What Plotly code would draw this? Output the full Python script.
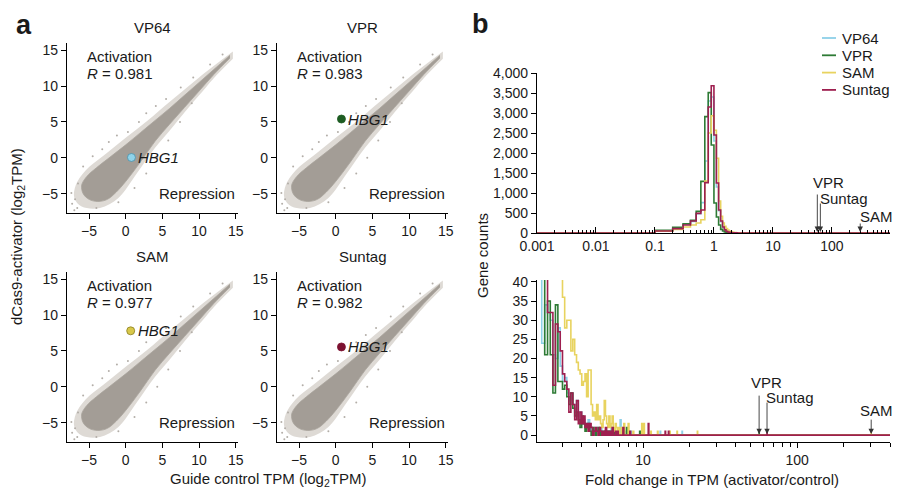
import math
import plotly.graph_objects as go

W, H = 901, 489
FONT = "Liberation Sans, Arial, sans-serif"

# ---------------- data: panel a (scatter) ----------------
panels = ["VP64", "VPR", "SAM", "Suntag"]
r_values = ["0.981", "0.983", "0.977", "0.982"]
hbg1_x = [0.78, 0.78, 0.68, 0.78]
hbg1_y = [0.04, 5.4, 7.8, 5.55]

# outline of the dense gene cloud (log2 TPM control vs activator)
cloud_core_x = [14.2, 12.0, 10.0, 8.0, 6.0, 4.0, 2.0, 0.0, -2.0, -4.0, -5.3,
                -6.0, -5.8, -5.0, -3.8, -2.5, -1.3,
                0.0, 2.0, 4.0, 6.0, 8.0, 10.0, 12.0, 14.2]
cloud_core_y = [14.3, 12.3, 10.5, 8.7, 6.9, 5.2, 3.5, 1.8, 0.2, -1.4, -2.6,
                -3.8, -5.0, -5.8, -6.1, -5.8, -4.8,
                -3.3, -0.6, 2.3, 4.7, 7.0, 9.3, 11.6, 13.9]
# outline of the sparse halo around the cloud
cloud_halo_x = [14.6, 10.0, 6.0, 3.0, 0.0, -3.0, -5.5, -6.8, -7.0, -6.0, -3.5, -1.0,
                1.5, 4.0, 6.0, 8.0, 10.0, 12.0, 14.6]
cloud_halo_y = [14.8, 11.2, 7.8, 5.2, 2.8, 0.3, -1.8, -3.8, -5.6, -6.8, -7.0, -5.6,
                -2.2, 1.4, 3.8, 6.3, 8.7, 11.1, 13.8]
# scattered outlier genes
outlier_x = [-7.0, -6.6, -7.3, -6.9, -7.4, -6.5, -5.8, -4.5, -3.2, -2.3, -1.2, 0.3, 1.8,
             2.8, 4.1, 5.5, 7.5, 9.2, 11.5, 13.2, -4.0, -1.0, 1.2, 2.8, 4.3, 5.8,
             7.4, 9.0]
outlier_y = [-7.3, -7.0, -6.4, -5.8, -4.9, -3.6, -1.2, 0.2, 1.2, 2.2, 3.1, 3.6, 5.0,
             6.2, 7.2, 8.2, 9.8, 11.2, 13.0, 14.4, -7.0, -6.2, -4.2, -2.2, 0.0, 2.4,
             5.0, 7.6]

# ---------------- data: panel b (histograms of fold change) ----------------
series = ["VP64", "VPR", "SAM", "Suntag"]
series_colors = ["#8dd0e8", "#2e7b35", "#e8d35f", "#9e1f4f"]
hbg1_fill = ["#8fd3ea", "#1d5c22", "#d8c84a", "#7c1131"]
hbg1_line = ["#4a8fa8", "#1d5c22", "#8a7d20", "#7c1131"]

# top histogram: bins of width 0.1, left edges 0.1 ... 2.9
top_bin_left = [0.1, 0.2, 0.3, 0.4, 0.5, 0.6, 0.7, 0.8, 0.9, 1.0, 1.1, 1.2, 1.3, 1.4, 1.5,
                1.6, 1.7, 1.8, 1.9, 2.0, 2.1, 2.2, 2.3, 2.4, 2.5, 2.6, 2.7, 2.8, 2.9]
top_counts = {
    "VP64":   [55, 120, 220, 290, 480, 760, 1800, 3300, 3400, 2300, 1150, 560, 280, 140, 75,
               45, 30, 20, 12, 8, 6, 4, 3, 2, 2, 1, 1, 1, 0],
    "VPR":    [65, 140, 230, 315, 540, 1290, 2910, 3510, 2200, 750, 400, 200, 90, 50, 28,
               16, 10, 6, 4, 3, 2, 2, 1, 1, 1, 1, 0, 0, 0],
    "SAM":    [45, 90, 150, 200, 250, 330, 1300, 2500, 2930, 2570, 1870, 800, 420, 250, 170,
               110, 75, 50, 35, 25, 18, 14, 10, 8, 6, 5, 4, 3, 2],
    "Suntag": [50, 110, 200, 300, 490, 575, 1260, 3150, 3680, 2450, 1250, 575, 300, 150, 80,
               45, 25, 15, 10, 6, 4, 3, 2, 2, 1, 1, 1, 0, 0],
}

# bottom histogram (zoomed): bins of width 0.1, left edges 2.0 ... 6.9
bottom_bin_left = [2.0, 2.1, 2.2, 2.3, 2.4, 2.5, 2.6, 2.7, 2.8, 2.9,
                   3.0, 3.1, 3.2, 3.3, 3.4, 3.5, 3.6, 3.7, 3.8, 3.9,
                   4.0, 4.1, 4.2, 4.3, 4.4, 4.5, 4.6, 4.7, 4.8, 4.9,
                   5.0, 5.1, 5.2, 5.3, 5.4, 5.5, 5.6, 5.7, 5.8, 5.9,
                   6.0, 6.1, 6.2, 6.3, 6.4, 6.5, 6.6, 6.7, 6.8, 6.9]
bottom_counts = {
    "VP64":   [55, 48, 24, 34, 32, 30, 21, 20, 28, 18,
               14, 15, 11, 9, 11, 8, 6, 9, 4, 6,
               3, 4, 2, 3, 4, 1, 2, 1, 0, 2,
               1, 1, 0, 2, 1, 0, 1, 0, 1, 0,
               1, 0, 2, 0, 1, 0, 0, 1, 0, 0],
    "VPR":    [60, 50, 45, 21, 35, 21, 11, 34, 14, 14,
               12, 13, 10, 8, 11, 7, 5, 6, 4, 2,
               5, 3, 1, 2, 3, 1, 0, 2, 1, 0,
               1, 2, 0, 1, 0, 0, 1, 0, 1, 0,
               1, 0, 0, 1, 0, 1, 0, 0, 0, 0],
    "SAM":    [95, 85, 78, 70, 64, 58, 52, 48, 45, 42,
               36, 28, 30, 30, 22, 25, 21, 19, 17, 16,
               13, 14, 16, 10, 17, 17, 8, 5, 6, 4,
               8, 4, 5, 3, 2, 4, 9, 5, 3, 2,
               5, 2, 3, 5, 2, 1, 3, 2, 1, 2],
    "Suntag": [65, 55, 50, 44, 32, 32, 13, 29, 27, 22,
               16, 14, 12, 6, 11, 8, 4, 9, 3, 6,
               3, 5, 2, 3, 1, 3, 2, 0, 1, 2,
               1, 0, 2, 1, 0, 1, 0, 2, 0, 1,
               0, 1, 0, 2, 0, 0, 1, 0, 1, 0],
}
# sparse tail bins beyond 7 (left edge, count); includes the HBG1 gene
tail_left = {
    "VP64":   [7.1, 7.6, 8.3, 12.9, 17.9],
    "VPR":    [7.3, 7.8, 9.5, 56.6],
    "SAM":    [7.2, 7.5, 8.0, 8.6, 9.8, 10.1, 11.2, 12.4, 14.9, 16.6, 22.5, 302.0],
    "Suntag": [7.4, 8.2, 10.8, 13.9, 14.6, 63.7],
}
tail_count = {
    "VP64":   [4, 1, 1, 1, 1],
    "VPR":    [1, 2, 1, 1],
    "SAM":    [2, 3, 3, 1, 3, 3, 1, 1, 1, 1, 1, 1],
    "Suntag": [2, 1, 3, 1, 1, 1],
}
hbg1_fold = {"VPR": 56.6, "Suntag": 63.7, "SAM": 302.0}

top_ticks = [0.001, 0.01, 0.1, 1, 10, 100]
top_ticktext = ["0.001", "0.01", "0.1", "1", "10", "100"]
bottom_ticks = [10, 100]


# ---------------- helpers ----------------
def px_x(p):
    return p / W


def px_y(p):
    return 1 - p / H


fig = go.Figure()

# scatter panel positions in pixels (left, right, top, bottom)
scatter_boxes = [(67, 238, 43, 213), (277, 448, 43, 213),
                 (67, 238, 272, 442), (277, 448, 272, 442)]

axis_common = dict(showline=True, linecolor="black", linewidth=1.3, ticks="outside",
                   ticklen=5, tickwidth=1.3, tickcolor="black", showgrid=False,
                   zeroline=False, tickfont=dict(family=FONT, size=14, color="#1a1a1a"))

annotations = []
shapes = []

for i, name in enumerate(panels):
    k = i + 1
    xa = "x" if k == 1 else f"x{k}"
    ya = "y" if k == 1 else f"y{k}"
    fig.add_trace(go.Scatter(x=cloud_halo_x, y=cloud_halo_y, fill="toself", mode="lines",
                             line=dict(width=0, color="#dcd8d3", shape="spline"),
                             fillcolor="#dedad5",
                             xaxis=xa, yaxis=ya, showlegend=False, hoverinfo="skip"))
    fig.add_trace(go.Scatter(x=cloud_core_x, y=cloud_core_y, fill="toself", mode="lines",
                             line=dict(width=0.8, color="#aaa49d", shape="spline"),
                             fillcolor="#a39d96",
                             xaxis=xa, yaxis=ya, showlegend=False, hoverinfo="skip"))
    fig.add_trace(go.Scatter(x=outlier_x, y=outlier_y, mode="markers",
                             marker=dict(size=2, color="#b3aea8"),
                             xaxis=xa, yaxis=ya, showlegend=False, hoverinfo="skip"))
    fig.add_trace(go.Scatter(x=[hbg1_x[i]], y=[hbg1_y[i]], mode="markers",
                             marker=dict(size=8, color=hbg1_fill[i],
                                         line=dict(width=0.8, color=hbg1_line[i])),
                             xaxis=xa, yaxis=ya, showlegend=False, hoverinfo="skip"))
    l, r, t, b = scatter_boxes[i]
    fig.update_layout(**{
        ("xaxis" if k == 1 else f"xaxis{k}"): dict(
            domain=[px_x(l), px_x(r)], range=[-8.0, 15.3], anchor=ya,
            tickvals=[-5, 0, 5, 10, 15], **axis_common),
        ("yaxis" if k == 1 else f"yaxis{k}"): dict(
            domain=[px_y(b), px_y(t)], range=[-7.7, 16.0], anchor=xa,
            tickvals=[-5, 0, 5, 10, 15], **axis_common),
    })
    annotations.append(dict(x=(l + r) / 2 / W, y=px_y(t - 16), xref="paper", yref="paper",
                            text=name, showarrow=False, font=dict(family=FONT, size=15),
                            xanchor="center", yanchor="middle"))
    annotations.append(dict(x=-5.6, y=14.1, xref=xa, yref=ya, text="Activation",
                            showarrow=False, xanchor="left", yanchor="middle",
                            font=dict(family=FONT, size=15)))
    annotations.append(dict(x=-5.6, y=11.8, xref=xa, yref=ya,
                            text=f"<i>R</i> = {r_values[i]}", showarrow=False,
                            xanchor="left", yanchor="middle", font=dict(family=FONT, size=15)))
    annotations.append(dict(x=15.1, y=-5.0, xref=xa, yref=ya, text="Repression",
                            showarrow=False, xanchor="right", yanchor="middle",
                            font=dict(family=FONT, size=15)))
    annotations.append(dict(x=hbg1_x[i], y=hbg1_y[i], xref=xa, yref=ya, text="<i>HBG1</i>",
                            showarrow=False, xanchor="left", yanchor="middle", xshift=5,
                            font=dict(family=FONT, size=15)))

# ---------------- histograms ----------------
for j, s in enumerate(series):
    xs = [0.001] + top_bin_left + [3.0, 1000]
    ys = [0] + top_counts[s] + [0, 0]
    fig.add_trace(go.Scatter(x=xs, y=ys, mode="lines",
                             line=dict(color=series_colors[j], width=1.6, shape="hv"),
                             name=s, xaxis="x5", yaxis="y5", showlegend=False, hoverinfo="skip"))
    xb = list(bottom_bin_left) + [7.0]
    yb = list(bottom_counts[s]) + [0]
    for tl, tc in zip(tail_left[s], tail_count[s]):
        xb += [tl, tl + 0.1]
        yb += [tc, 0]
    xb.append(1000)
    yb.append(0)
    fig.add_trace(go.Scatter(x=xb, y=yb, mode="lines",
                             line=dict(color=series_colors[j], width=1.6, shape="hv"),
                             name=s, xaxis="x6", yaxis="y6", showlegend=False, hoverinfo="skip"))
    # legend entry (drawn by hand for exact spacing)
    row_y = 38 + j * 17.3
    shapes.append(dict(type="line", xref="paper", yref="paper",
                       x0=px_x(822), x1=px_x(836), y0=px_y(row_y), y1=px_y(row_y),
                       line=dict(color=series_colors[j], width=1.8)))
    annotations.append(dict(x=px_x(840), y=px_y(row_y), xref="paper", yref="paper", text=s,
                            showarrow=False, xanchor="left", yanchor="middle",
                            font=dict(family=FONT, size=15)))

hx = [px_x(537), px_x(890)]
minor_top = [m * 10 ** e for e in range(-3, 3) for m in range(2, 10)]
minor_bottom = [m * 10 ** e for e in range(0, 3) for m in range(2, 10)]

fig.update_layout(
    xaxis5=dict(domain=hx, type="log", range=[-3.0, 2.985], anchor="y5",
                tickvals=top_ticks, ticktext=top_ticktext,
                **{**axis_common, "ticks": "inside", "ticklen": 6},
                minor=dict(tickmode="array", tickvals=minor_top, ticks="inside", ticklen=3,
                           tickwidth=1.2, tickcolor="black")),
    yaxis5=dict(domain=[px_y(233), px_y(73)], range=[0, 4000], anchor="x5",
                tickvals=list(range(0, 4001, 500)), tickformat=",", **axis_common),
    xaxis6=dict(domain=hx, type="log", range=[math.log10(2.05), math.log10(400)], anchor="y6",
                tickvals=bottom_ticks, ticktext=["10", "100"], **axis_common,
                minor=dict(tickmode="array", tickvals=minor_bottom, ticks="outside", ticklen=4,
                           tickwidth=1.2, tickcolor="black")),
    yaxis6=dict(domain=[px_y(442), px_y(280)], range=[-1.8, 40.5], anchor="x6",
                tickvals=list(range(0, 41, 5)), **axis_common),
)

# arrow annotations for HBG1 fold changes
arrow_specs = [("x5", "y5", hbg1_fold["VPR"], -40), ("x5", "y5", hbg1_fold["Suntag"], -31),
               ("x5", "y5", hbg1_fold["SAM"], -11),
               ("x6", "y6", hbg1_fold["VPR"], -41), ("x6", "y6", hbg1_fold["Suntag"], -34),
               ("x6", "y6", hbg1_fold["SAM"], -17)]
for xa, ya, fx, ay in arrow_specs:
    annotations.append(dict(x=math.log10(fx), y=0, xref=xa, yref=ya, text="", showarrow=True,
                            ax=0, ay=ay, arrowhead=2, arrowsize=1.2, arrowwidth=0.9,
                            arrowcolor="#333333", standoff=1))
label_specs = [("VPR", 828, 182.5), ("Suntag", 843.5, 199), ("SAM", 876, 216),
               ("VPR", 766.7, 382.7), ("Suntag", 790, 397), ("SAM", 876, 410)]
for txt, x, y in label_specs:
    annotations.append(dict(x=px_x(x), y=px_y(y), xref="paper", yref="paper", text=txt,
                            showarrow=False, xanchor="center", yanchor="middle",
                            font=dict(family=FONT, size=15)))

annotations += [
    dict(x=px_x(17), y=px_y(237), xref="paper", yref="paper",
         text="dCas9-activator (log<sub>2</sub>TPM)", textangle=-90, showarrow=False,
         font=dict(family=FONT, size=15), xanchor="center", yanchor="middle"),
    dict(x=px_x(268), y=px_y(479), xref="paper", yref="paper",
         text="Guide control TPM (log<sub>2</sub>TPM)", showarrow=False,
         font=dict(family=FONT, size=15), xanchor="center", yanchor="middle"),
    dict(x=px_x(482), y=px_y(255), xref="paper", yref="paper", text="Gene counts",
         textangle=-90, showarrow=False, font=dict(family=FONT, size=15),
         xanchor="center", yanchor="middle"),
    dict(x=px_x(712), y=px_y(479), xref="paper", yref="paper",
         text="Fold change in TPM (activator/control)", showarrow=False,
         font=dict(family=FONT, size=15), xanchor="center", yanchor="middle"),
    dict(x=px_x(24), y=px_y(25), xref="paper", yref="paper", text="<b>a</b>",
         showarrow=False, font=dict(family=FONT, size=27), xanchor="center", yanchor="middle"),
    dict(x=px_x(481), y=px_y(24), xref="paper", yref="paper", text="<b>b</b>",
         showarrow=False, font=dict(family=FONT, size=27), xanchor="center", yanchor="middle"),
]

fig.update_layout(
    width=W, height=H, autosize=False,
    margin=dict(l=0, r=0, t=0, b=0, autoexpand=False),
    paper_bgcolor="white", plot_bgcolor="white",
    font=dict(family=FONT, size=14, color="#1a1a1a"),
    annotations=annotations,
    shapes=shapes,
    showlegend=False,
)

fig.write_html("out.html",
               config={"displayModeBar": False},
               post_script="document.body.style.margin='0px';"
                           "document.body.style.overflow='hidden';")
